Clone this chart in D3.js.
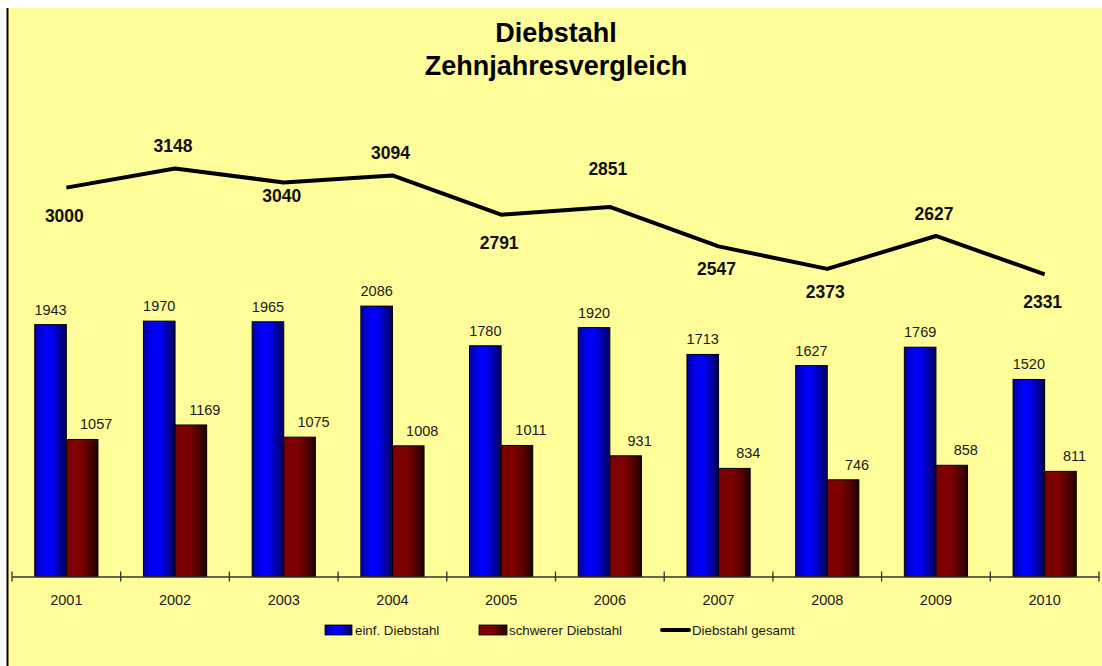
<!DOCTYPE html>
<html><head><meta charset="utf-8">
<script src="https://cdn.jsdelivr.net/npm/d3@7"></script>
<style>body{margin:0;background:#fff;}svg{display:block;font-family:"Liberation Sans",Arial,sans-serif;}</style>
</head><body>
<svg id="c" width="1102" height="666"></svg>
<script>
const years = ["2001","2002","2003","2004","2005","2006","2007","2008","2009","2010"];
const einfach = [1943,1970,1965,2086,1780,1920,1713,1627,1769,1520];
const schwer = [1057,1169,1075,1008,1011,931,834,746,858,811];
const gesamt = [3000,3148,3040,3094,2791,2851,2547,2373,2627,2331];
const gesamtLabelPlacement = ["below","above","belowClose","above","below","aboveFar","belowNear","belowNear","above","below"];
const seriesNames = ["einf. Diebstahl","schwerer Diebstahl","Diebstahl gesamt"];

const placementDy = {below:34, belowNear:29, belowClose:20, above:-16, aboveFar:-32};

const svg = d3.select("#c");
const defs = svg.append("defs");
function grad(id, stops){
  const g = defs.append("linearGradient").attr("id",id).attr("x1","0").attr("x2","1").attr("y1","0").attr("y2","0");
  stops.forEach(s=>g.append("stop").attr("offset",s[0]).attr("stop-color",s[1]));
}
grad("gBlue",[[0,"#0000a8"],[0.35,"#0000ff"],[0.55,"#0000f0"],[1,"#00005a"]]);
grad("gRed",[[0,"#7a0000"],[0.4,"#800000"],[0.7,"#5a0000"],[1,"#200000"]]);

// background
svg.append("rect").attr("x",8).attr("y",8).attr("width",1094).attr("height",658).attr("fill","#fffd99");
svg.append("line").attr("x1",7.5).attr("x2",7.5).attr("y1",8).attr("y2",666).attr("stroke","#000").attr("stroke-width",2);

// title
svg.append("text").attr("x",556).attr("y",42).attr("text-anchor","middle").attr("font-size",27).attr("font-weight","bold").text("Diebstahl");
svg.append("text").attr("x",556).attr("y",75).attr("text-anchor","middle").attr("font-size",27).attr("font-weight","bold").text("Zehnjahresvergleich");

const x = d3.scaleBand().domain(years).range([12,1099]).paddingInner(0).paddingOuter(0);
const y = d3.scaleLinear().domain([0,4000]).range([576.5,58]);
const xs = d3.scaleBand().domain([0,1]).range([0,x.bandwidth()]).paddingInner(0).paddingOuter(0.72);
const labelShift = [0, 14];

const g = svg.append("g");
// bars
[[einfach,"url(#gBlue)"],[schwer,"url(#gRed)"]].forEach(([arr,fill],si)=>{
  g.selectAll(null).data(arr).enter().append("rect")
    .attr("x",(d,i)=>x(years[i])+xs(si)).attr("width",xs.bandwidth())
    .attr("y",d=>y(d)).attr("height",d=>y(0)-y(d))
    .attr("fill",fill).attr("stroke","#000").attr("stroke-width",1);
  g.selectAll(null).data(arr).enter().append("text")
    .attr("x",(d,i)=>x(years[i])+xs(si)+xs.bandwidth()/2+labelShift[si]).attr("y",d=>y(d)-10)
    .attr("text-anchor","middle").attr("font-size",14.5).attr("fill","#1a1a1a").text(d=>d);
});

// axis
const axis = d3.axisBottom(x).tickSize(0).tickPadding(18);
const ag = svg.append("g").attr("transform",`translate(0,${y(0)})`).call(axis);
ag.select(".domain").attr("stroke","#333").attr("stroke-width",1.3);
ag.selectAll("text").attr("font-size",14.5).attr("fill","#1a1a1a").attr("font-family","Liberation Sans, Arial, sans-serif");
const tickPos = years.map(d=>x(d)).concat([x.range()[1]]);
ag.selectAll(".sep").data(tickPos).enter().append("line").attr("x1",d=>d).attr("x2",d=>d).attr("y1",-5).attr("y2",5).attr("stroke","#333").attr("stroke-width",1.3);

// line
const cx = (i)=>x(years[i])+x.bandwidth()/2;
const line = d3.line().x((d,i)=>cx(i)).y(d=>y(d));
svg.append("path").datum(gesamt).attr("d",line).attr("fill","none").attr("stroke","#000").attr("stroke-width",4).attr("stroke-linejoin","round");
svg.selectAll(null).data(gesamt).enter().append("text")
  .attr("x",(d,i)=>cx(i)-2).attr("y",(d,i)=>y(d)+placementDy[gesamtLabelPlacement[i]])
  .attr("text-anchor","middle").attr("font-size",17.5).attr("font-weight","bold").attr("fill","#111").text(d=>d);

// legend
const lg = svg.append("g").attr("transform","translate(0,630)");
lg.append("rect").attr("x",325).attr("y",-5).attr("width",27).attr("height",10).attr("fill","url(#gBlue)").attr("stroke","#000").attr("stroke-width",0.8);
lg.append("text").attr("x",355).attr("y",5).attr("font-size",13.3).attr("fill","#1a1a1a").text(seriesNames[0]);
lg.append("rect").attr("x",479).attr("y",-5).attr("width",28).attr("height",10).attr("fill","url(#gRed)").attr("stroke","#000").attr("stroke-width",0.8);
lg.append("text").attr("x",509).attr("y",5).attr("font-size",13.3).attr("fill","#1a1a1a").text(seriesNames[1]);
lg.append("line").attr("x1",662).attr("x2",689).attr("y1",0).attr("y2",0).attr("stroke","#000").attr("stroke-width",4).attr("stroke-linecap","round");
lg.append("text").attr("x",692).attr("y",5).attr("font-size",13.3).attr("fill","#1a1a1a").text(seriesNames[2]);
</script>
</body></html>
